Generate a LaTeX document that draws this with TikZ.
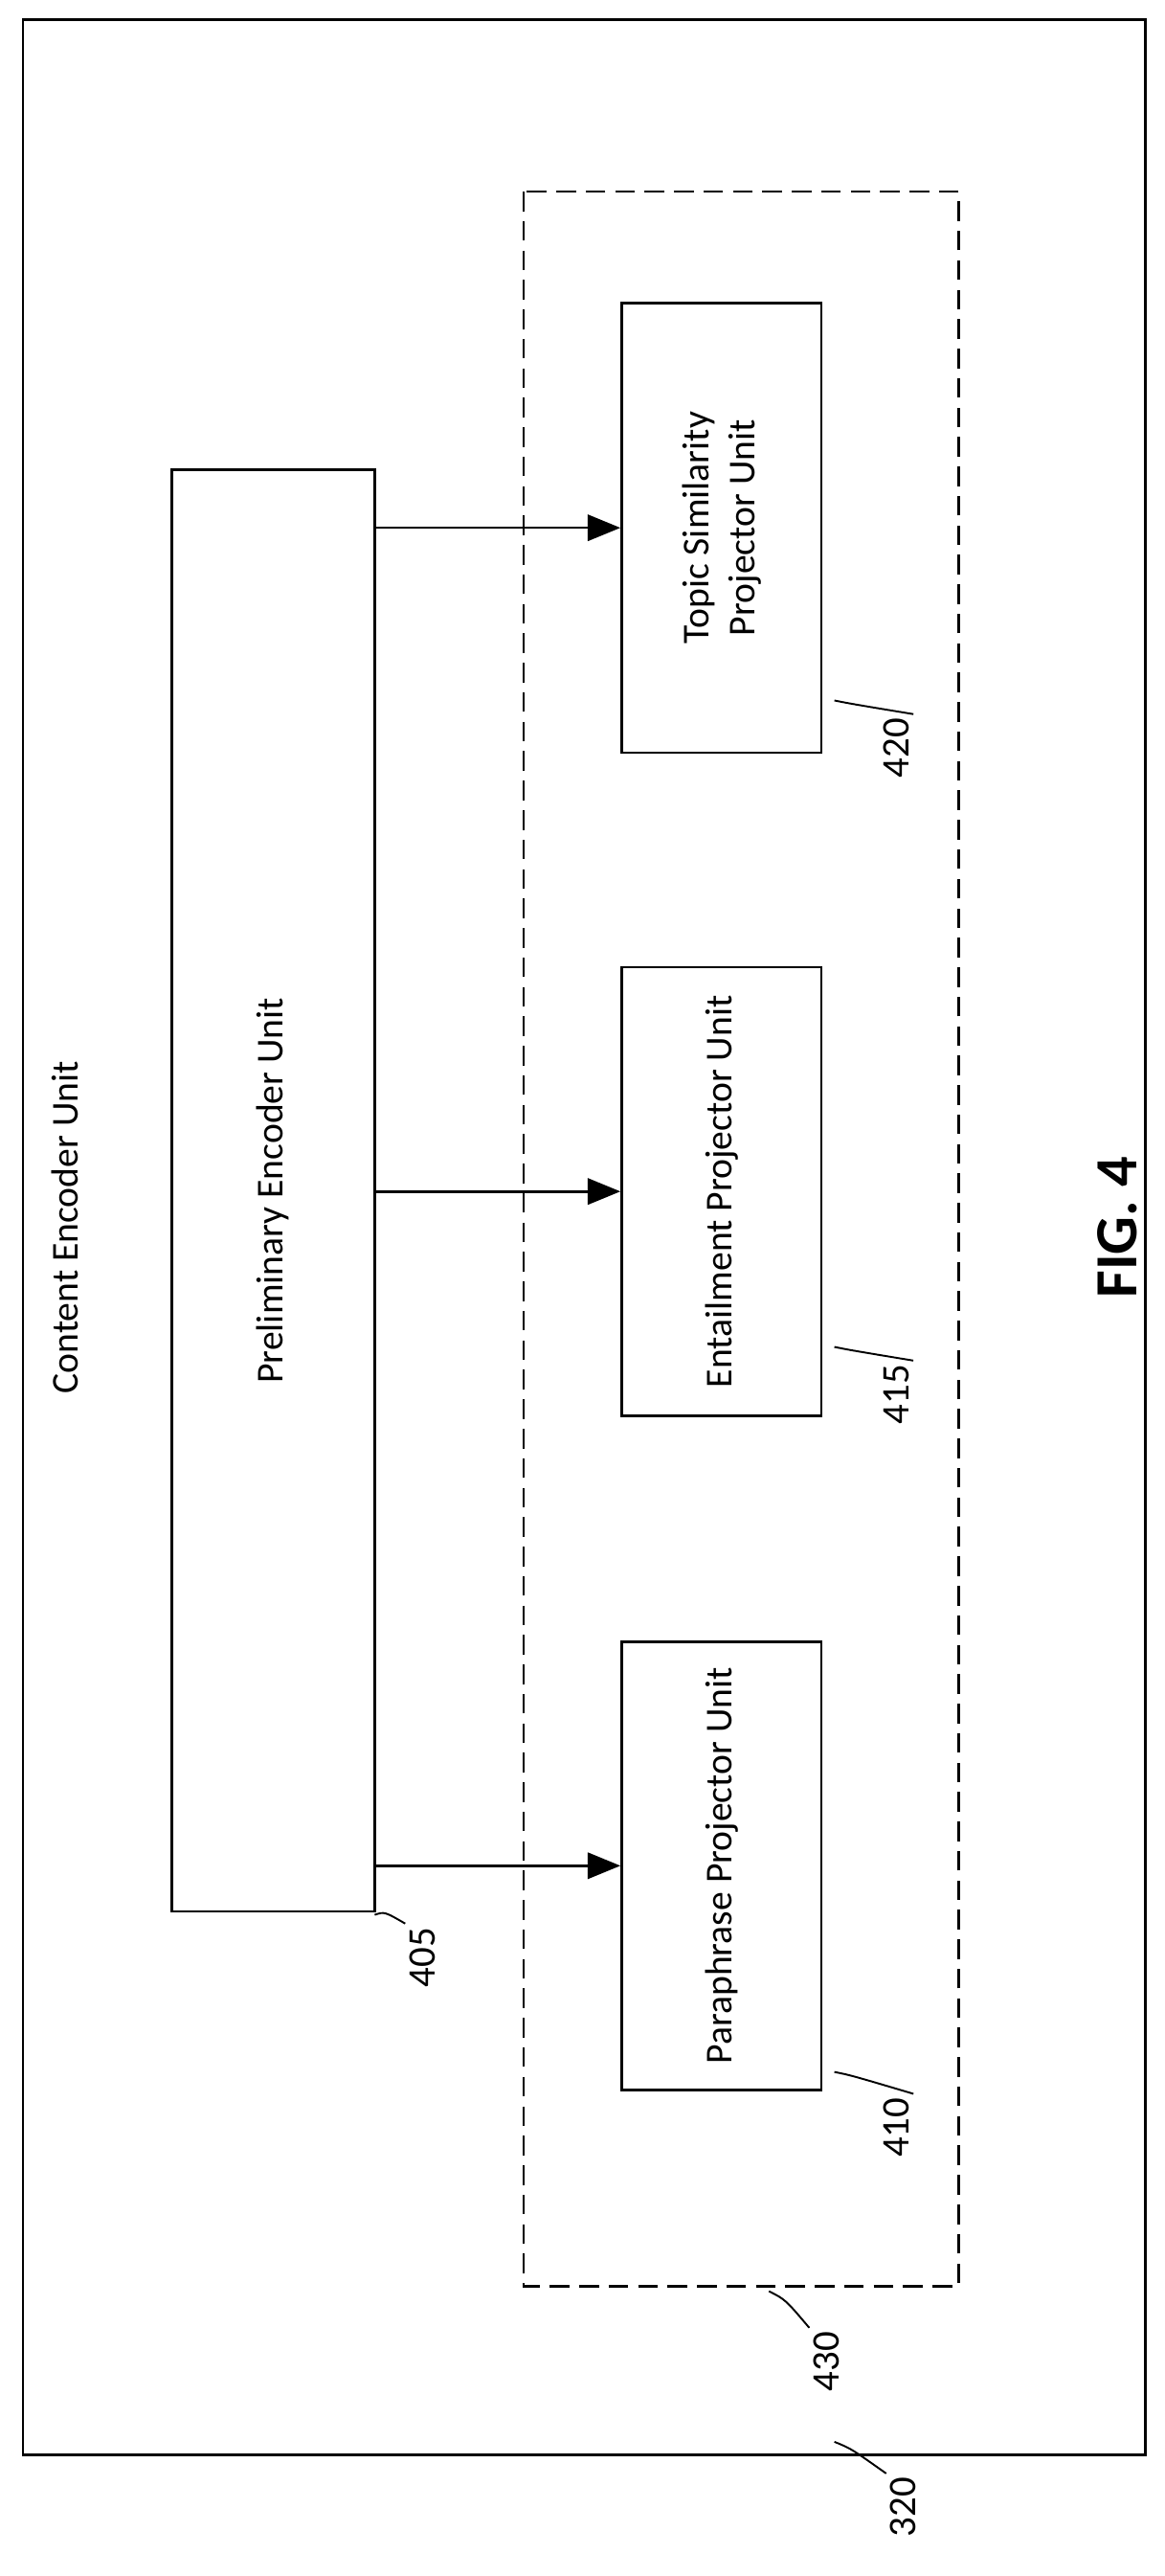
\documentclass[tikz,border=0pt]{standalone}
\usepackage{fontspec}
\setmainfont{Carlito}
\usetikzlibrary{arrows.meta}

\begin{document}
\begin{tikzpicture}[
    x=0.05cm, y=-0.05cm,
    every node/.style={font=\fontsize{33}{40}\selectfont},
    box/.style={draw, line width=2.2pt, rotate=90, inner sep=0pt, align=center},
    tag/.style={rotate=90, font=\fontsize{34}{40}\selectfont},
    lead/.style={line width=1.6pt},
    link/.style={-{Triangle[length=1cm,width=0.8cm]}, line width=2.2pt}
]
\useasboundingbox (0,0) rectangle (712,1574);

% Frames
\node[box, minimum width=74.4cm, minimum height=34.3cm] (content) at (357,756) {};
\node[box, dash pattern=on 0.6cm off 0.3cm, minimum width=64cm, minimum height=13.3cm] (group) at (453,757) {};
\node[rotate=90] (contentlbl) at (40,750) {Content Encoder Unit};

% Units
\node[box, minimum width=44.05cm, minimum height=6.2cm] (pre) at (167,727.5) {Preliminary Encoder Unit};
\node[box, minimum width=13.75cm, minimum height=6.1cm] (topic) at (441,322.5) {Topic Similarity\\Projector Unit};
\node[box, minimum width=13.7cm, minimum height=6.1cm] (entail) at (441,728) {Entailment Projector Unit};
\node[box, minimum width=13.7cm, minimum height=6.1cm] (para) at (441,1140) {Paraphrase Projector Unit};

% Arrows
\draw[link] (pre.south |- topic) -- (topic.north);
\draw[link] (pre.south |- entail) -- (entail.north);
\draw[link] (pre.south |- para) -- (para.north);

% Reference numerals
\node[tag] (n420) at (548,457) {420};
\node[tag] (n415) at (548,852) {415};
\node[tag] (n410) at (548,1300) {410};
\node[tag] (n405) at (258,1196) {405};
\node[tag] (n430) at (505,1443) {430};
\node[tag] (n320) at (552,1532) {320};
\draw[lead] (n420.south east) .. controls (520,430) .. (510,428);
\draw[lead] (n415.south east) .. controls (520,825) .. (510,823);
\draw[lead] (n410.south east) .. controls (520,1268) .. (510,1266);
\draw[lead] (n405.north east) .. controls (235,1168) .. (229,1170);
\draw[lead] (n430.north east) .. controls (480,1405) .. (470,1400);
\draw[lead] (n320.north east) .. controls (520,1496) .. (510,1492);

\node[rotate=90, font=\bfseries\fontsize{52}{62}\selectfont] (fig) at (683,750) {FIG. 4};
\end{tikzpicture}
\end{document}
